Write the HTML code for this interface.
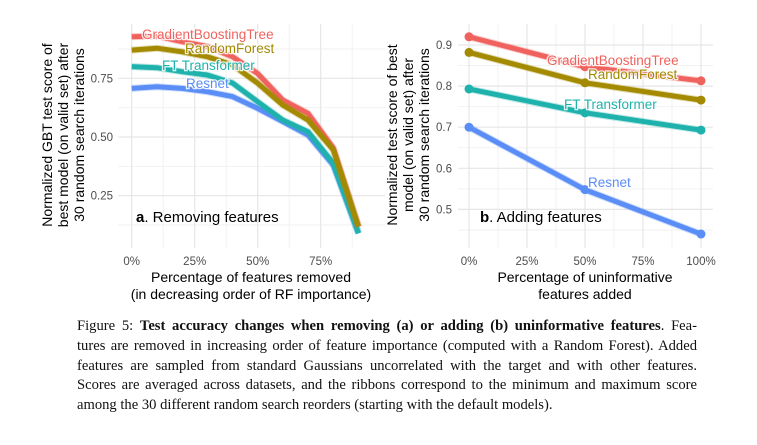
<!DOCTYPE html>
<html><head><meta charset="utf-8">
<style>
body{margin:0;background:#fff;width:757px;height:445px;overflow:hidden;position:relative;font-family:"Liberation Sans",sans-serif}
svg{position:absolute;left:0;top:0}
.cap{position:absolute;left:77px;width:620px;font-family:"Liberation Serif",serif;font-size:14.6px;color:#111;white-space:nowrap;line-height:18px}
.j{text-align:justify;text-align-last:justify;white-space:normal}
</style></head><body>
<svg id="chart" width="757" height="310"></svg>
<div class="cap j" style="top:317px">Figure 5: <b>Test accuracy changes when removing (a) or adding (b) uninformative features</b>. Fea-</div>
<div class="cap j" style="top:337px">tures are removed in increasing order of feature importance (computed with a Random Forest). Added</div>
<div class="cap j" style="top:357px">features are sampled from standard Gaussians uncorrelated with the target and with other features.</div>
<div class="cap j" style="top:376px">Scores are averaged across datasets, and the ribbons correspond to the minimum and maximum score</div>
<div class="cap" style="top:396px">among the 30 different random search reorders (starting with the default models).</div>
<script>
const seriesNames=["GradientBoostingTree","RandomForest","FT Transformer","Resnet"];
const colors=["#F0625D","#A38A00","#1FB2AC","#5A8DF5"];
const removedPct=[0,10,20,30,40,50,60,70,80,90];
const aGBT=[0.927,0.93,0.906,0.885,0.842,0.77,0.657,0.60,0.453,0.118];
const aRF=[0.87,0.878,0.863,0.842,0.807,0.729,0.636,0.572,0.445,0.118];
const aFT=[0.80,0.795,0.778,0.764,0.73,0.65,0.572,0.522,0.388,0.09];
const aRes=[0.707,0.714,0.707,0.693,0.672,0.622,0.565,0.508,0.38,0.09];
const addedPct=[0,50,100];
const bGBT=[0.92,0.847,0.813];
const bRF=[0.882,0.808,0.766];
const bFT=[0.793,0.735,0.693];
const bRes=[0.70,0.548,0.44];
const aXTicks=["0%","25%","50%","75%"];
const aYTicks=[0.25,0.5,0.75];
const bXTicks=["0%","25%","50%","75%","100%"];
const bYTicks=[0.5,0.6,0.7,0.8,0.9];

const svg=document.getElementById('chart');
const NS="http://www.w3.org/2000/svg";
function mk(tag,attrs,parent){const e=document.createElementNS(NS,tag);for(const k in attrs)e.setAttribute(k,attrs[k]);(parent||svg).appendChild(e);return e;}

const ax=p=>131.7+p*2.52;
const ay=v=>78.3+(0.75-v)*234.8;
const bx=p=>469+p*2.32;
const by=v=>45+(0.9-v)*411;

function grid(x0,x1,y0,y1,xs,ys,xsMinor,ysMinor){
  xsMinor.forEach(x=>{const l=mk('line',{x1:x,x2:x,y1:y0,y2:y1,stroke:'#f2f2f2','stroke-width':1});});
  ysMinor.forEach(y=>{const l=mk('line',{x1:x0,x2:x1,y1:y,y2:y,stroke:'#f2f2f2','stroke-width':1});});
  xs.forEach(x=>{const l=mk('line',{x1:x,x2:x,y1:y0,y2:y1,stroke:'#e6e6e6','stroke-width':1.2});});
  ys.forEach(y=>{const l=mk('line',{x1:x0,x2:x1,y1:y,y2:y,stroke:'#e6e6e6','stroke-width':1.2});});
}
grid(118,385,24,248,[0,25,50,75].map(ax),aYTicks.map(ay),[12.5,37.5,62.5,87.5].map(ax),[0.125,0.375,0.625,0.875].map(ay));
grid(458,713,24,248,[0,25,50,75,100].map(bx),bYTicks.map(by),[12.5,37.5,62.5,87.5].map(bx),[0.45,0.55,0.65,0.75,0.85].map(by));

function txt(s,x,y,opt,name){const t=mk('text',Object.assign({x:x,y:y,'font-size':11.5,fill:'#4d4d4d','font-family':'Liberation Sans, sans-serif'},opt||{}));t.textContent=s;return t;}

aXTicks.forEach((s,i)=>txt(s,ax(i*25),265,{'text-anchor':'middle'},'x-tick-label-a'));
aYTicks.forEach(v=>txt(v.toFixed(2),113,ay(v)+4,{'text-anchor':'end'},'y-tick-label-a'));
bXTicks.forEach((s,i)=>txt(s,bx(i*25),265,{'text-anchor':'middle'},'x-tick-label-b'));
bYTicks.forEach(v=>txt(v.toFixed(1),452,by(v)+4,{'text-anchor':'end'},'y-tick-label-b'));

txt("Percentage of features removed",251,282,{'text-anchor':'middle','font-size':14,fill:'#000'},'x-axis-title-a');
txt("(in decreasing order of RF importance)",251,299,{'text-anchor':'middle','font-size':14,fill:'#000'},'x-axis-title-a-line2');
txt("Percentage of uninformative",585,282,{'text-anchor':'middle','font-size':14,fill:'#000'},'x-axis-title-b');
txt("features added",585,299,{'text-anchor':'middle','font-size':14,fill:'#000'},'x-axis-title-b-line2');
[["Normalized GBT test score of",52],["best model (on valid set) after",68],["30 random search iterations",84]].forEach(([s,x])=>txt(s,x,135,{'text-anchor':'middle','font-size':14,fill:'#000',transform:`rotate(-90 ${x} 135)`},'y-axis-title-a'));
[["Normalized test score of best",397],["model (on valid set) after",413],["30 random search iterations",429]].forEach(([s,x])=>txt(s,x,135,{'text-anchor':'middle','font-size':14,fill:'#000',transform:`rotate(-90 ${x} 135)`},'y-axis-title-b'));

function series(xsArr,vals,xf,yf,col,name,pts){
  const d=xsArr.map((p,i)=>(i?'L':'M')+xf(p).toFixed(1)+','+yf(vals[i]).toFixed(1)).join(' ');
  const r=mk('path',{d:d,fill:'none',stroke:col,'stroke-opacity':0.3,'stroke-width':7,'stroke-linejoin':'round','stroke-linecap':'butt'});
  
  const l=mk('path',{d:d,fill:'none',stroke:col,'stroke-width':5,'stroke-linejoin':'round','stroke-linecap':'butt'});
  
  if(pts)xsArr.forEach((p,i)=>{const c=mk('circle',{cx:xf(p),cy:yf(vals[i]),r:4.5,fill:col});});
}
const aVals=[aGBT,aRF,aFT,aRes], bVals=[bGBT,bRF,bFT,bRes];
const keys=['gbt','rf','ft','resnet'];
[3,2,0,1].forEach(i=>series(removedPct,aVals[i],ax,ay,colors[i],'a-'+keys[i],false));
[3,2,0,1].forEach(i=>series(addedPct,bVals[i],bx,by,colors[i],'b-'+keys[i],true));

function lab(s,x,y,col,name){const t=mk('text',{x:x,y:y,'font-size':13.5,fill:col,'font-family':'Liberation Sans, sans-serif',stroke:'#fff','stroke-width':2.5,'paint-order':'stroke','stroke-opacity':0.85});t.textContent=s;}
lab("GradientBoostingTree",142,39,colors[0],'a-label-gbt');
lab("RandomForest",185,53,colors[1],'a-label-rf');
lab("FT Transformer",162,70,colors[2],'a-label-ft');
lab("Resnet",186,88,colors[3],'a-label-resnet');
lab("GradientBoostingTree",547,65,colors[0],'b-label-gbt');
lab("RandomForest",588,79,colors[1],'b-label-rf');
lab("FT Transformer",564,109,colors[2],'b-label-ft');
lab("Resnet",588,187,colors[3],'b-label-resnet');

const pa=mk('text',{x:136,y:222,'font-size':15,fill:'#000','font-family':'Liberation Sans, sans-serif'});pa.innerHTML='<tspan font-weight="bold">a</tspan>. Removing features';

const pb=mk('text',{x:480,y:222,'font-size':15,fill:'#000','font-family':'Liberation Sans, sans-serif'});pb.innerHTML='<tspan font-weight="bold">b</tspan>. Adding features';

</script>
</body></html>
